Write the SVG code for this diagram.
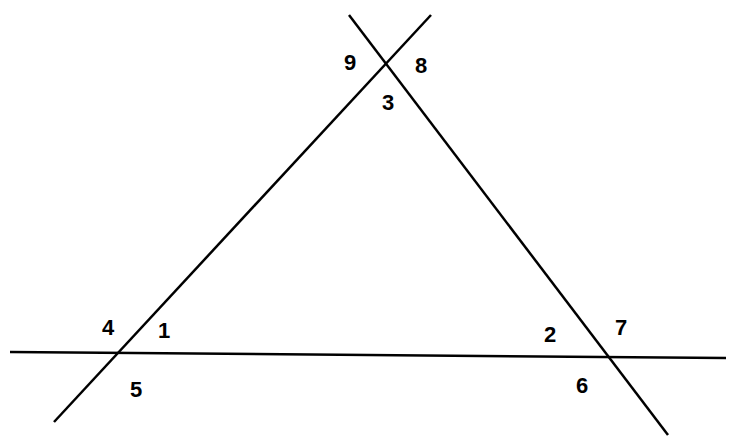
<svg xmlns="http://www.w3.org/2000/svg" width="743" height="448" viewBox="0 0 743 448">
<style>
.ln{stroke:#000;stroke-width:2.5;fill:none;stroke-linecap:butt}
.lb{font-family:"Liberation Sans",Arial,sans-serif;font-weight:bold;font-size:22px;fill:#000;text-anchor:middle}
</style>
<rect width="743" height="448" fill="#fff"/>
<g id="lines">
<line class="ln" x1="10" y1="352" x2="726" y2="358"/>
<line class="ln" x1="54" y1="422" x2="431" y2="15"/>
<line class="ln" x1="349" y1="15" x2="668" y2="435"/>
</g>
<g id="labels">
<text class="lb" x="350" y="70">9</text>
<text class="lb" x="421" y="73">8</text>
<text class="lb" x="388" y="110">3</text>
<text class="lb" x="108" y="335">4</text>
<text class="lb" x="164" y="338">1</text>
<text class="lb" x="136" y="397">5</text>
<text class="lb" x="550" y="342">2</text>
<text class="lb" x="621" y="335">7</text>
<text class="lb" x="582" y="393">6</text>
</g>
</svg>
